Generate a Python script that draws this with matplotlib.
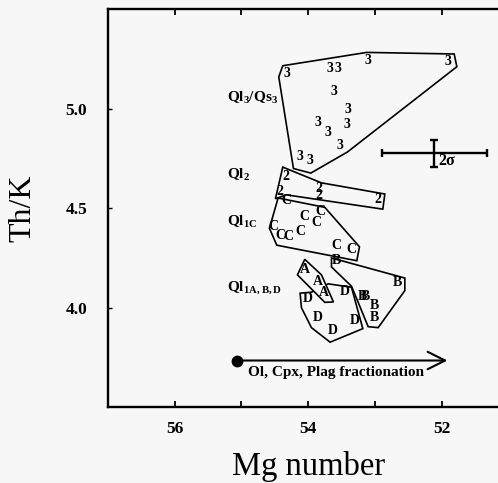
import matplotlib
matplotlib.use("Agg")
import matplotlib.pyplot as plt
from matplotlib.patches import Polygon, FancyArrowPatch

plt.rcParams['font.family'] = ['Liberation Serif', 'DejaVu Serif']
plt.rcParams['mathtext.default'] = 'regular'

BG = '#f7f7f7'

# Labelled sample points (Mg number, Th/K) for each unit
ql3_x = [54.31, 53.67, 53.55, 53.10, 51.90, 53.61, 53.41, 53.42, 53.85, 53.70, 53.52, 54.12, 53.97]
ql3_y = [5.176, 5.20, 5.20, 5.24, 5.235, 5.084, 4.993, 4.922, 4.929, 4.88, 4.813, 4.76, 4.737]

ql2_x = [54.34, 53.84, 53.84, 52.95, 54.43]
ql2_y = [4.661, 4.601, 4.562, 4.544, 4.585]

qlc_x = [54.33, 53.82, 54.05, 53.88, 54.52, 54.41, 54.30, 54.11, 53.58, 53.35]
qlc_y = [4.537, 4.483, 4.458, 4.429, 4.407, 4.362, 4.357, 4.385, 4.311, 4.294]

qla_x = [54.05, 53.85, 53.77]
qla_y = [4.192, 4.134, 4.078]

qlb_x = [53.57, 52.66, 53.19, 53.14, 53.00, 53.01]
qlb_y = [4.238, 4.125, 4.056, 4.056, 4.013, 3.951]

qld_x = [54.00, 53.45, 53.85, 53.63, 53.30]
qld_y = [4.044, 4.081, 3.951, 3.888, 3.934]

# Field outlines
ql3_field = [(54.38, 5.215), (54.44, 5.159), (54.22, 4.699), (53.96, 4.676),
             (53.41, 4.782), (51.77, 5.21), (51.81, 5.274), (53.12, 5.282)]
ql2_field = [(54.38, 4.706), (53.80, 4.627), (52.85, 4.571), (52.88, 4.495),
             (54.33, 4.567), (54.49, 4.547)]
qlc_field = [(54.45, 4.551), (54.58, 4.399), (54.47, 4.314), (53.27, 4.236),
             (53.23, 4.306), (53.75, 4.504)]
qlb_field = [(53.65, 4.25), (53.65, 4.205), (53.35, 4.108), (53.27, 4.044),
             (53.10, 3.905), (52.95, 3.90), (52.55, 4.086), (52.55, 4.149)]
qld_field = [(54.12, 4.073), (53.95, 4.078), (53.70, 4.12), (53.35, 4.103),
             (53.18, 3.895), (53.67, 3.827), (53.95, 3.90), (54.10, 4.0)]
qla_field = [(54.05, 4.243), (54.16, 4.165), (53.75, 4.027), (53.62, 4.029),
             (53.80, 4.165)]

# Unit names and their label positions
unit_names = ['Ql$_{3}$/Qs$_{3}$', 'Ql$_{2}$', 'Ql$_{1C}$', 'Ql$_{1A,B,D}$']
unit_label_x = [55.22, 55.22, 55.22, 55.22]
unit_label_y = [5.052, 4.669, 4.429, 4.098]

# 2-sigma analytical uncertainty
err_x, err_y = 52.11, 4.775
err_dx, err_dy = 0.787, 0.067

# Fractionation trend
trend_start = (55.06, 3.735)
trend_end = (51.87, 3.735)
trend_text = 'Ol, Cpx, Plag fractionation'

x_ticks = [56, 55, 54, 53, 52]
x_ticklabels = ['56', '', '54', '', '52']
y_ticks = [4.0, 4.5, 5.0]
y_ticklabels = ['4.0', '4.5', '5.0']

fig = plt.figure(figsize=(4.98, 4.83), dpi=100, facecolor=BG)
ax = fig.add_axes([0.2169, 0.1567, 0.8036, 0.8247], facecolor=BG)
ax.set_xlim(57, 51)
ax.set_ylim(3.5, 5.5)

for field, fill in [(ql3_field, False), (ql2_field, False), (qlc_field, False),
                    (qlb_field, False), (qld_field, False), (qla_field, True)]:
    ax.add_patch(Polygon(field, closed=True, facecolor=BG if fill else 'none',
                         edgecolor='black', lw=1.2, zorder=2 if fill else 1))

pt_kw = dict(ha='center', va='center', fontsize=10, fontweight='bold', zorder=3)
for xs, ys, ch in [(ql3_x, ql3_y, '3'), (ql2_x, ql2_y, '2'), (qlc_x, qlc_y, 'C'),
                   (qla_x, qla_y, 'A'), (qlb_x, qlb_y, 'B'), (qld_x, qld_y, 'D')]:
    for x, y in zip(xs, ys):
        ax.text(x, y, ch, **pt_kw)

for name, x, y in zip(unit_names, unit_label_x, unit_label_y):
    ax.text(x, y, name, ha='left', va='center', fontsize=11, fontweight='bold')

ax.errorbar(err_x, err_y, xerr=err_dx, yerr=err_dy, color='black', lw=1.7,
            capsize=3, capthick=1.7)
ax.text(err_x - 0.06, err_y - 0.04, '2σ', ha='left', va='center', fontsize=11.5,
        fontweight='bold')

ax.plot([trend_start[0]], [trend_start[1]], 'o', color='black', ms=7.5)
ax.add_patch(FancyArrowPatch(trend_start, trend_end,
                             arrowstyle='->,head_length=0.7,head_width=0.35',
                             mutation_scale=18, lw=1.5, color='black'))
ax.text(53.58, 3.675, trend_text, ha='center', va='center', fontsize=11,
        fontweight='bold')

ax.set_xticks(x_ticks)
ax.set_xticklabels(x_ticklabels, fontsize=12.5, fontweight='bold')
ax.set_yticks(y_ticks)
ax.set_yticklabels(y_ticklabels, fontsize=12.5, fontweight='bold')
ax.tick_params(axis='x', direction='in', length=4, width=1.3, top=True, pad=10)
ax.tick_params(axis='y', direction='in', length=3, width=1.0, pad=15)

for side in ['left', 'bottom', 'top', 'right']:
    ax.spines[side].set_linewidth(1.7)

ax.set_xlabel('Mg number', fontsize=23.5, labelpad=10)
ax.set_ylabel('Th/K', fontsize=23, labelpad=20)

fig.savefig('out.png', dpi=100, facecolor=BG)
